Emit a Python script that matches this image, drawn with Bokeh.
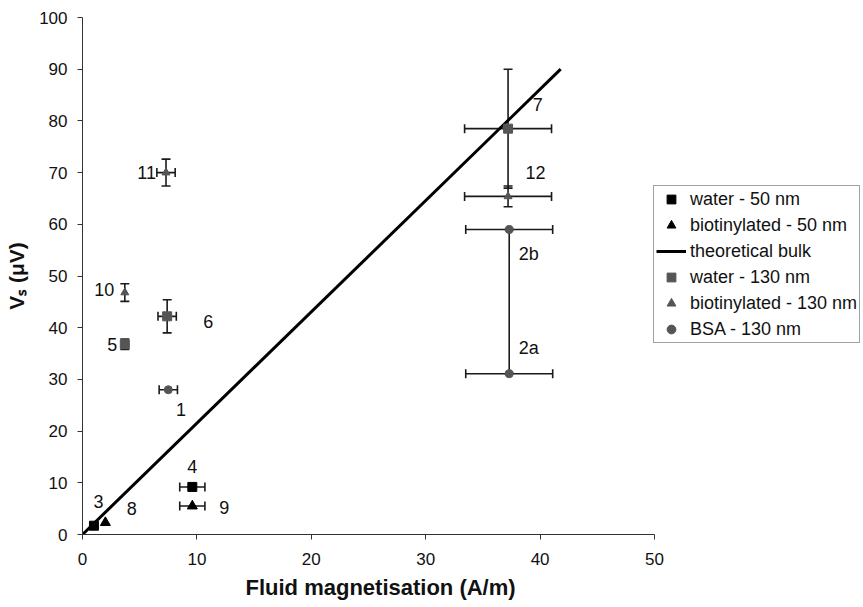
import math
from bokeh.plotting import figure
from bokeh.models import (Range1d, FixedTicker, Whisker, TeeHead, ColumnDataSource,
                          Legend, LegendItem, Title)
from bokeh.core.properties import value
from bokeh.embed import file_html
from bokeh.resources import INLINE

FONT = "Liberation Sans"

# ---- data ----
x_ticks = [0, 10, 20, 30, 40, 50]
y_ticks = [0, 10, 20, 30, 40, 50, 60, 70, 80, 90, 100]

# water - 50 nm
w50_lab = ["3", "4"]
w50_x = [1.0, 9.6]
w50_y = [1.7, 9.2]
w50_xerr = [0.0, 1.1]

# biotinylated - 50 nm
b50_lab = ["8", "9"]
b50_x = [2.0, 9.6]
b50_y = [2.3, 5.5]
b50_xerr = [0.0, 1.1]

# water - 130 nm
w130_lab = ["5", "6", "7"]
w130_x = [3.7, 7.4, 37.2]
w130_y = [36.8, 42.2, 78.5]
w130_xerr = [0.0, 0.8, 3.8]
w130_yerr = [1.0, 3.2, 11.5]

# biotinylated - 130 nm
b130_lab = ["10", "11", "12"]
b130_x = [3.7, 7.3, 37.2]
b130_y = [46.8, 70.0, 65.4]
b130_xerr = [0.0, 0.8, 3.8]
b130_yerr = [1.7, 2.6, 2.0]

# BSA - 130 nm
bsa_lab = ["1", "2a", "2b"]
bsa_x = [7.5, 37.3, 37.3]
bsa_y = [28.0, 31.1, 59.0]
bsa_xerr = [0.8, 3.8, 3.8]
bsa_yerr_up = [0.0, 27.9, 0.0]

# theoretical bulk line
theory_x = [0.0, 41.8]
theory_y = [0.0, 90.0]

# point label positions
lab_text = ["1", "3", "8", "4", "9", "5", "6", "10", "11", "7", "12", "2b", "2a"]
lab_x = [8.6, 1.4, 4.3, 9.6, 12.4, 2.6, 11.0, 1.9, 5.6, 39.8, 39.6, 39.0, 39.0]
lab_y = [24.2, 6.4, 5.0, 13.2, 5.2, 36.8, 41.2, 47.4, 70.0, 83.2, 70.0, 54.3, 36.0]

# ---- figure ----
W, H = 863, 607
left, right_px, top, bottom = 82, 654, 17, 534
frame_w = W - left
x_end = 50.0 * frame_w / (right_px - left)

p = figure(width=W, height=H, output_backend="svg", toolbar_location=None,
           x_range=Range1d(0, x_end), y_range=Range1d(0, 100),
           min_border_left=left, min_border_right=0, min_border_top=top,
           min_border_bottom=H - bottom)
p.outline_line_color = None
p.xgrid.visible = False
p.ygrid.visible = False
p.background_fill_color = "white"
p.border_fill_color = "white"

for ax in (p.xaxis[0], p.yaxis[0]):
    ax.axis_line_color = "#333333"
    ax.major_tick_line_color = "#333333"
    ax.major_tick_out = 5
    ax.major_tick_in = 0
    ax.minor_tick_line_color = None
    ax.major_label_text_font = FONT
    ax.major_label_text_font_size = "17px"
    ax.major_label_text_color = "#111111"
p.xaxis[0].ticker = FixedTicker(ticks=x_ticks)
p.yaxis[0].ticker = FixedTicker(ticks=y_ticks)
p.xaxis[0].bounds = (0, 50)
p.xaxis[0].major_label_standoff = 13
p.yaxis[0].major_label_standoff = 10

p.yaxis[0].axis_label = "V\u209b (\u03bcV)"
p.yaxis[0].axis_label_text_font = FONT
p.yaxis[0].axis_label_text_font_size = "21px"
p.yaxis[0].axis_label_text_font_style = "bold"
p.yaxis[0].axis_label_text_color = "#111111"
p.yaxis[0].axis_label_standoff = 8

xt = Title(text="Fluid magnetisation (A/m)", align="left", offset=163,
           text_font=FONT, text_font_size="22px", text_font_style="bold",
           text_color="#111111", standoff=10)
p.add_layout(xt, "below")

GRAY = "#555555"
EB = "#1a1a1a"

def xwhisk(xs, ys, xe):
    d = [(x, y, e) for x, y, e in zip(xs, ys, xe) if e > 0]
    if not d:
        return
    src = ColumnDataSource(dict(base=[v[1] for v in d],
                                lower=[v[0] - v[2] for v in d],
                                upper=[v[0] + v[2] for v in d]))
    w = Whisker(source=src, base="base", lower="lower", upper="upper",
                dimension="width", line_color=EB, line_width=1.6,
                upper_head=TeeHead(size=9, line_color=EB, line_width=1.6),
                lower_head=TeeHead(size=9, line_color=EB, line_width=1.6))
    p.add_layout(w)

def ywhisk(xs, ys, lo, hi):
    d = [(x, y, l, h) for x, y, l, h in zip(xs, ys, lo, hi) if (l > 0 or h > 0)]
    if not d:
        return
    src = ColumnDataSource(dict(base=[v[0] for v in d],
                                lower=[v[1] - v[2] for v in d],
                                upper=[v[1] + v[3] for v in d]))
    w = Whisker(source=src, base="base", lower="lower", upper="upper",
                dimension="height", line_color=EB, line_width=1.6,
                upper_head=TeeHead(size=9, line_color=EB, line_width=1.6),
                lower_head=TeeHead(size=9, line_color=EB, line_width=1.6))
    p.add_layout(w)

xwhisk(w50_x, w50_y, w50_xerr)
xwhisk(b50_x, b50_y, b50_xerr)
xwhisk(w130_x, w130_y, w130_xerr)
xwhisk(b130_x, b130_y, b130_xerr)
xwhisk(bsa_x, bsa_y, bsa_xerr)
ywhisk(w130_x, w130_y, w130_yerr, w130_yerr)
ywhisk(b130_x, b130_y, b130_yerr, b130_yerr)
ywhisk(bsa_x, bsa_y, [0.0] * len(bsa_y), bsa_yerr_up)

r_line = p.line(theory_x, theory_y, line_color="black", line_width=3)

r_w50 = p.scatter(w50_x, w50_y, marker="square", size=9, fill_color="black", line_color="black")
r_b50 = p.scatter(b50_x, b50_y, marker="triangle", size=10, fill_color="black", line_color="black")
r_w130 = p.scatter(w130_x, w130_y, marker="square", size=9, fill_color=GRAY, line_color=GRAY)
r_b130 = p.scatter(b130_x, b130_y, marker="triangle", size=8, fill_color=GRAY, line_color=GRAY)
r_bsa = p.scatter(bsa_x, bsa_y, marker="circle", size=8, fill_color=GRAY, line_color=GRAY)

p.text(x=lab_x, y=lab_y, text=lab_text, text_font=value(FONT), text_font_size="18px",
       text_align="center", text_baseline="middle", text_color="#111111")

legend = Legend(items=[
    LegendItem(label="water - 50 nm", renderers=[r_w50]),
    LegendItem(label="biotinylated - 50 nm", renderers=[r_b50]),
    LegendItem(label="theoretical bulk", renderers=[r_line]),
    LegendItem(label="water - 130 nm", renderers=[r_w130]),
    LegendItem(label="biotinylated - 130 nm", renderers=[r_b130]),
    LegendItem(label="BSA - 130 nm", renderers=[r_bsa]),
], location=(653 - left, bottom - 343))
legend.label_text_font = FONT
legend.label_text_font_size = "18px"
legend.label_text_color = "#111111"
legend.label_height = 22
legend.glyph_height = 22
legend.glyph_width = 30
legend.spacing = 4
legend.padding = 2
legend.margin = 0
legend.label_standoff = 4
legend.border_line_color = "#444444"
legend.border_line_width = 1
legend.background_fill_alpha = 1
p.add_layout(legend)

open("out.html", "w").write(file_html(p, INLINE))
